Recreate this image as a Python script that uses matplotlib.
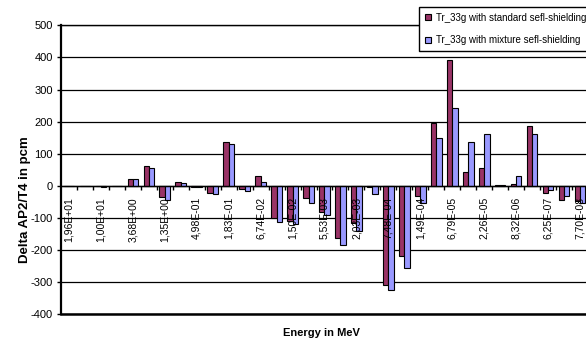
import matplotlib
matplotlib.use("Agg")
import matplotlib.pyplot as plt
import numpy as np

plt.rcParams['font.family'] = ['Liberation Sans', 'DejaVu Sans']

# Energy group upper bounds (MeV), labelled on every other group
energy_labels = ["1,96E+01", "1,00E+01", "3,68E+00", "1,35E+00", "4,98E-01",
                 "1,83E-01", "6,74E-02", "1,50E-02", "5,53E-03", "2,03E-03",
                 "7,48E-04", "1,49E-04", "6,79E-05", "2,26E-05", "8,32E-06",
                 "6,25E-07", "7,70E-08"]

# Delta AP2/T4 per group (pcm), 33 groups
standard = [0, 0, -1, 0, 20, 62, -36, 13, -4, -23, 137, -10, 31, -100, -108,
            -38, -80, -163, -116, -5, -308, -218, -32, 197, 392, 43, 56, 4, 5,
            187, -22, -43, -48]
mixture = [0, 0, -4, 0, 20, 55, -45, 8, -4, -25, 131, -17, 12, -113, -120,
           -52, -90, -183, -140, -24, -325, -257, -52, 150, 242, 137, 160, 4,
           30, 162, -12, -33, -52]

series_names = ["Tr_33g with standard sefl-shielding",
                "Tr_33g with mixture sefl-shielding"]
colors = ["#993366", "#9999FF"]
y_ticks = list(range(-400, 501, 100))

W, H = 586, 340
fig = plt.figure(figsize=(W / 100, H / 100), dpi=100)
ax = fig.add_axes([61 / W, 1 - 314.3 / H, 527 / W, (314.3 - 25.3) / H])

n = len(standard)
x = np.arange(1, n + 1)
w = 1 / 3

# horizontal gridlines behind the bars
for yv in y_ticks:
    ax.axhline(yv, color="black", lw=0.9, zorder=0)

b1 = ax.bar(x - w / 2, standard, w, color=colors[0], edgecolor="black",
            lw=0.8, zorder=1)
b2 = ax.bar(x + w / 2, mixture, w, color=colors[1], edgecolor="black",
            lw=0.8, zorder=1)

ax.set_xlim(0.5, n + 0.5)
ax.set_ylim(-400, 500)

# category axis sits on the zero line
ax.spines["bottom"].set_position(("data", 0))
ax.spines["bottom"].set_linewidth(1.0)
ax.spines["left"].set_linewidth(1.6)
ax.spines["top"].set_linewidth(1.0)
ax.spines["right"].set_linewidth(1.0)
ax.axhline(-400, color="black", lw=1.8, zorder=3, clip_on=False)

ax.set_xticks(np.arange(1.5, n, 1))
ax.set_xticklabels([])
ax.tick_params(axis="x", which="major", direction="out", length=3,
               width=1.0, color="black")
ax.set_xticks(x[::2], minor=True)
ax.set_xticklabels(energy_labels, minor=True, rotation=90, fontsize=7.5)
ax.tick_params(axis="x", which="minor", length=0, pad=8)

ax.set_yticks(y_ticks)
ax.set_yticklabels([str(v) for v in y_ticks], fontsize=8)
ax.tick_params(axis="y", direction="out", length=3, width=1.0, pad=3)

fig.text(25.5 / W, 1 - 200 / H, "Delta AP2/T4 in pcm", rotation=90,
         fontsize=9.5, fontweight="bold", ha="center", va="center")
fig.text(321 / W, 1 - 333 / H, "Energy in MeV", fontsize=8,
         fontweight="bold", ha="center", va="center")

leg = fig.legend([b1, b2], series_names, loc="upper left",
                 bbox_to_anchor=(419 / W, 1 - 7 / H), frameon=True,
                 fancybox=False, edgecolor="black", framealpha=1,
                 fontsize=7, handlelength=0.6, handleheight=0.6,
                 handletextpad=0.6, borderpad=0.6, labelspacing=1.3,
                 borderaxespad=0)
leg.get_frame().set_linewidth(1.0)

fig.savefig("out.png", dpi=100)
